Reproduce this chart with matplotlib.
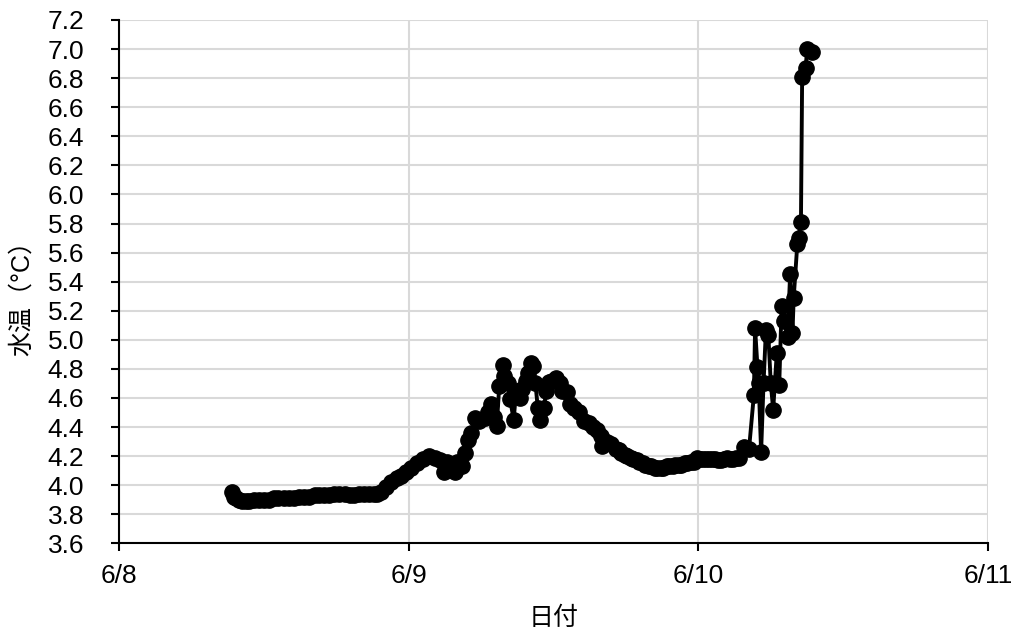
import matplotlib
matplotlib.use("Agg")
import matplotlib.pyplot as plt
from matplotlib.ticker import MultipleLocator, FixedLocator

plt.rcParams['font.family'] = ['Liberation Sans', 'Noto Sans CJK JP', 'DejaVu Sans']

# hours since 6/8 00:00
hours = [9.4, 9.5, 9.7, 9.9, 10.2, 10.5, 10.8, 11.2, 11.6, 12.0, 12.4, 12.8, 13.2, 13.7,
         14.1, 14.5, 14.9, 15.3, 15.7, 16.2, 16.6, 17.0, 17.4, 17.8, 18.2, 18.7, 19.1,
         19.5, 19.9, 20.3, 20.7, 21.1, 21.4, 21.7,
         22.1, 22.5, 23.0, 23.4, 23.8, 24.2, 24.7, 25.2, 25.7,
         26.2, 26.6, 26.9, 27.2, 27.5, 27.8, 28.0, 28.4, 28.7, 28.9, 29.2, 29.5, 29.8,
         30.3, 30.6, 30.8, 31.1, 31.3, 31.5, 31.8, 31.9, 32.2, 32.4, 32.7, 32.9, 33.2,
         33.4, 33.7, 33.9, 34.1, 34.3, 34.5, 34.7, 34.9, 35.2, 35.4, 35.6, 35.9, 36.2,
         36.5, 36.7, 37.1, 37.4, 37.7, 38.1, 38.5, 38.9, 39.3, 39.6, 39.9, 40.0, 40.4,
         40.8, 41.2, 41.4, 41.6, 41.9, 42.1, 42.4, 42.6, 42.9, 43.1, 43.4, 43.6, 43.9,
         44.1, 44.4, 44.6, 44.9, 45.1, 45.4, 45.6, 45.9, 46.1, 46.4, 46.6, 46.9, 47.1,
         47.4, 47.6, 47.9, 48.1, 48.4, 48.6, 48.9, 49.1, 49.4, 49.6, 49.9, 50.1, 50.4,
         50.6, 50.9, 51.1, 51.4, 51.8, 52.2, 52.6,
         52.7, 52.9, 53.0, 53.2, 53.4, 53.6, 53.8, 54.0, 54.2, 54.5, 54.7, 54.9, 55.1,
         55.4, 55.6, 55.8, 55.9, 56.2, 56.3, 56.5, 56.6, 56.9, 57.0, 57.4]
temps = [3.95, 3.92, 3.91, 3.90, 3.89, 3.89, 3.89, 3.90, 3.90, 3.90, 3.90, 3.91, 3.91, 3.91,
         3.91, 3.91, 3.92, 3.92, 3.92, 3.93, 3.93, 3.93, 3.93, 3.94, 3.94, 3.94, 3.93,
         3.93, 3.94, 3.94, 3.94, 3.94, 3.94, 3.95,
         3.99, 4.02, 4.05, 4.06, 4.09, 4.12, 4.15, 4.18, 4.20,
         4.19, 4.17, 4.09, 4.16, 4.13, 4.09, 4.16, 4.13, 4.22, 4.31, 4.36, 4.46, 4.44,
         4.46, 4.50, 4.56, 4.47, 4.41, 4.68, 4.83, 4.75, 4.70, 4.59, 4.45, 4.65, 4.60,
         4.66, 4.72, 4.77, 4.84, 4.82, 4.70, 4.53, 4.45, 4.53, 4.65, 4.71, 4.72, 4.74,
         4.70, 4.65, 4.64, 4.56, 4.53, 4.50, 4.44, 4.43, 4.40, 4.38, 4.34, 4.27, 4.30,
         4.28, 4.25, 4.24, 4.22, 4.21, 4.20, 4.19, 4.18, 4.17, 4.16, 4.15, 4.14, 4.13,
         4.13, 4.12, 4.12, 4.12, 4.12, 4.13, 4.13, 4.13, 4.14, 4.14, 4.14, 4.15, 4.15,
         4.16, 4.16, 4.19, 4.18, 4.18, 4.18, 4.18, 4.18, 4.18, 4.17, 4.17, 4.18, 4.19,
         4.18, 4.18, 4.19, 4.19, 4.26, 4.25, 4.62,
         5.08, 4.81, 4.70, 4.23, 4.70, 5.07, 5.03, 4.70, 4.52, 4.91, 4.69, 5.23, 5.13,
         5.02, 5.45, 5.05, 5.29, 5.66, 5.70, 5.81, 6.81, 6.87, 7.00, 6.98]

x_ticks = [0, 24, 48, 72]
x_labels = ['6/8', '6/9', '6/10', '6/11']

fig = plt.figure(figsize=(10.19, 6.34), dpi=100)
ax = fig.add_axes([0.1168, 0.143, 0.9696 - 0.1168, 0.9685 - 0.143])

ax.plot(hours, temps, color='black', lw=2.8, marker='o', ms=11.0, zorder=3)

ax.set_xlim(0, 72)
ax.set_ylim(3.6, 7.2)
ax.xaxis.set_major_locator(FixedLocator(x_ticks))
ax.set_xticklabels(x_labels)
ax.yaxis.set_major_locator(MultipleLocator(0.2))
ax.yaxis.set_major_formatter(plt.FuncFormatter(lambda v, p: f"{v:.1f}"))

ax.grid(True, color='#d9d9d9', lw=1.5, zorder=0)
ax.set_axisbelow(True)
for s in ['top', 'right']:
    ax.spines[s].set_visible(False)
for s in ['left', 'bottom']:
    ax.spines[s].set_linewidth(1.5)
    ax.spines[s].set_color('black')

ax.tick_params(axis='both', direction='out', length=6, width=1.5, labelsize=19, colors='black')
ax.tick_params(axis='x', pad=9)
ax.tick_params(axis='y', pad=19)

ax.set_xlabel('日付', fontsize=18, family=['Noto Sans CJK JP'])
ax.set_ylabel('水温（°C）', fontsize=18, family=['Liberation Sans', 'Noto Sans CJK JP'])
ax.xaxis.set_label_coords(0.5, -0.143)
ax.xaxis.label.set_va('center')
ax.yaxis.set_label_coords(-0.1116, 0.481)
ax.yaxis.label.set_va('center')

fig.savefig('out.png', dpi=100)
